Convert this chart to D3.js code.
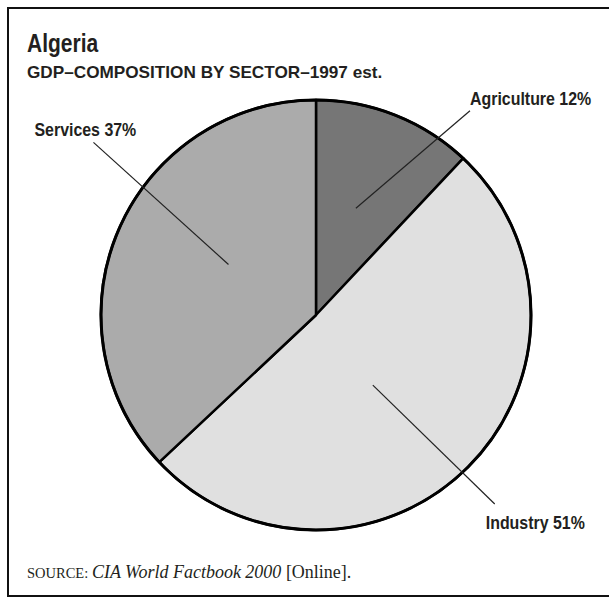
<!DOCTYPE html>
<html>
<head>
<meta charset="utf-8">
<script src="https://cdn.jsdelivr.net/npm/d3@7"></script>
<style>
  body { margin: 0; background: #fff; }
  .lbl { font-family: "Liberation Sans Narrow", "Arial Narrow", "Liberation Sans", sans-serif; font-weight: bold; font-stretch: condensed; fill: #231f20; }
  .src { font-family: "Liberation Serif", "Times New Roman", serif; fill: #231f20; }
</style>
</head>
<body>
<div id="chart"></div>
<script>
// datos del grafico
const sectors = ["Agriculture", "Industry", "Services"];
const shares = [12, 51, 37];
const colors = ["#767676", "#e0e0e0", "#ababab"];

const W = 609, H = 598;
const cx = 316, cy = 315, R = 215;

const svg = d3.select("#chart").append("svg")
    .attr("width", W)
    .attr("height", H);

// marco
svg.append("rect")
    .attr("x", 8).attr("y", 8)
    .attr("width", 620).attr("height", 588)
    .attr("fill", "none")
    .attr("stroke", "#111")
    .attr("stroke-width", 2);

// la fuente condensada no existe, se comprime con textLength
function condense(sel, factor) {
  sel.each(function () {
    const w = this.getComputedTextLength();
    d3.select(this).attr("textLength", w * factor).attr("lengthAdjust", "spacingAndGlyphs");
  });
}

svg.append("text").attr("class", "lbl")
    .attr("x", 27).attr("y", 52)
    .style("font-size", "25px")
    .text("Algeria")
    .call(condense, 0.84);

svg.append("text").attr("class", "lbl")
    .attr("x", 27).attr("y", 78)
    .style("font-size", "17px")
    .text("GDP–COMPOSITION BY SECTOR–1997 est.")
    .call(condense, 1.01);

const data = sectors.map((s, i) => ({ name: s, value: shares[i], color: colors[i] }));

const pie = d3.pie().sort(null).value(d => d.value);
const arcs = pie(data);
const arc = d3.arc().innerRadius(0).outerRadius(R);

const g = svg.append("g").attr("transform", `translate(${cx},${cy})`);

g.selectAll("path.slice")
    .data(arcs)
    .enter()
    .append("path")
    .attr("class", "slice")
    .attr("d", arc)
    .attr("fill", d => d.data.color)
    .attr("stroke", "#000")
    .attr("stroke-width", 2.5)
    .attr("stroke-linejoin", "round");

g.append("circle")
    .attr("r", R)
    .attr("fill", "none")
    .attr("stroke", "#000")
    .attr("stroke-width", 3);

// posicion de etiquetas (angulo en grados, radio en fracciones de R)
const labelLayout = {
  Agriculture: { inA: 20.5, inR: 0.53, outA: 37, outR: 1.19, dx: 0, dy: -6 },
  Industry:    { inA: 141,  inR: 0.42, outA: 136.6, outR: 1.21, dx: -9, dy: 25 },
  Services:    { inA: 300,  inR: 0.47, outA: 307.8, outR: 1.31, dx: -59, dy: -6 }
};
const polar = (a, r) => {
  const t = a * Math.PI / 180;
  return [Math.sin(t) * r * R, -Math.cos(t) * r * R];
};

arcs.forEach(d => {
  const L = labelLayout[d.data.name];
  const p1 = polar(L.inA, L.inR);
  const p2 = polar(L.outA, L.outR);
  g.append("line")
    .attr("x1", p1[0]).attr("y1", p1[1])
    .attr("x2", p2[0]).attr("y2", p2[1])
    .attr("stroke", "#222")
    .attr("stroke-width", 1.2);
  g.append("text").attr("class", "lbl")
    .attr("x", p2[0] + L.dx).attr("y", p2[1] + L.dy)
    .style("font-size", "17.5px")
    .text(`${d.data.name} ${d.data.value}%`)
    .call(condense, 0.91);
});

const src = svg.append("text").attr("class", "src")
    .attr("x", 27).attr("y", 578)
    .style("font-size", "18px");
src.append("tspan").style("font-size", "14.5px").text("SOURCE: ");
src.append("tspan").style("font-style", "italic").text("CIA World Factbook 2000");
src.append("tspan").text(" [Online].");
</script>
</body>
</html>
